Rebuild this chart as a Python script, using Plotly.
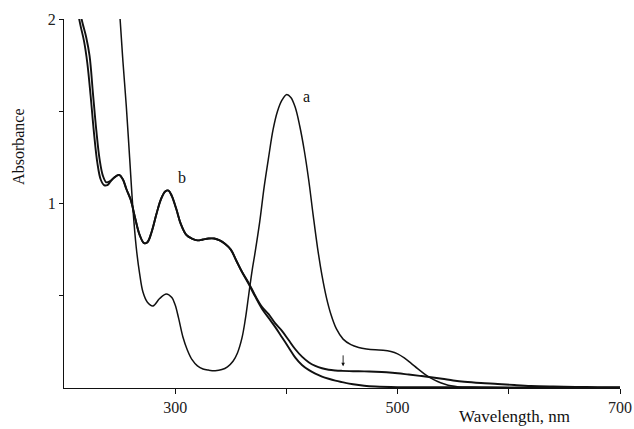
import plotly.graph_objects as go

# Curve a
wl_a = [246, 250, 253, 256, 259, 262, 265, 268, 271, 275, 280, 286, 292, 297, 300, 303, 307, 311, 315, 320,
        325, 330, 336, 342, 347, 352, 356, 360, 363, 366, 369, 372, 376, 380, 384, 388, 392, 396, 400, 404,
        408, 412, 416, 420, 424, 428, 432, 436, 440, 445, 451, 458, 465, 472, 480, 487, 494, 500, 506, 512,
        518, 524, 530, 536, 542, 548, 555, 565, 580, 600, 650, 700]
abs_a = [2.4, 2.04, 1.77, 1.53, 1.25, 0.97, 0.76, 0.62, 0.52, 0.465, 0.445, 0.485, 0.51, 0.49, 0.45, 0.38, 0.275, 0.205, 0.155, 0.12,
         0.103, 0.097, 0.094, 0.100, 0.115, 0.145, 0.19, 0.27, 0.37, 0.50, 0.63, 0.74, 0.90, 1.09, 1.25, 1.40, 1.50, 1.56, 1.59, 1.575,
         1.52, 1.42, 1.29, 1.13, 0.94, 0.76, 0.61, 0.49, 0.40, 0.32, 0.265, 0.235, 0.22, 0.212, 0.207, 0.205, 0.198, 0.185, 0.163, 0.135,
         0.105, 0.077, 0.053, 0.035, 0.022, 0.012, 0.006, 0.004, 0.003, 0.002, 0.001, 0.001]

# Curve b, upper trace
wl_b1 = [215, 217, 220, 223, 226, 229, 232, 235, 238, 241, 245, 249, 253, 256, 260, 264, 268, 272, 275, 279,
         283, 287, 291, 294, 297, 301, 305, 310, 315, 320, 325, 330, 335, 340, 345, 350, 355, 360, 366, 372,
         378, 384, 390, 396, 402, 408, 414, 420, 426, 432, 438, 444, 450, 460, 470, 480, 490, 500, 510, 520,
         530, 540, 550, 560, 575, 590, 605, 620, 640, 660, 680, 700]
abs_b1 = [2.02, 1.97, 1.90, 1.80, 1.60, 1.40, 1.24, 1.15, 1.115, 1.12, 1.14, 1.155, 1.13, 1.08, 1.02, 0.92, 0.83, 0.785, 0.79, 0.85,
          0.94, 1.02, 1.065, 1.07, 1.04, 0.97, 0.89, 0.83, 0.81, 0.80, 0.805, 0.81, 0.81, 0.80, 0.78, 0.75, 0.69, 0.63, 0.57, 0.50,
          0.44, 0.40, 0.35, 0.31, 0.26, 0.21, 0.17, 0.14, 0.12, 0.107, 0.099, 0.095, 0.093, 0.091, 0.09, 0.088, 0.085, 0.08, 0.073, 0.066,
          0.058, 0.05, 0.041, 0.034, 0.027, 0.022, 0.016, 0.011, 0.008, 0.006, 0.005, 0.004]

# Curve b, lower trace
wl_b2 = [213, 215, 218, 221, 224, 227, 230, 233, 236, 239, 242, 246, 250, 253, 256, 260, 264, 268, 272, 275,
         279, 283, 287, 291, 294, 297, 301, 305, 310, 315, 320, 325, 330, 335, 340, 345, 350, 355, 360, 366,
         372, 378, 384, 390, 396, 402, 408, 414, 420, 426, 432, 438, 444, 450, 460, 470, 480, 500, 550, 600, 700]
abs_b2 = [2.02, 1.96, 1.88, 1.76, 1.58, 1.38, 1.22, 1.13, 1.10, 1.10, 1.12, 1.145, 1.155, 1.13, 1.08, 1.02, 0.92, 0.83, 0.785, 0.79,
          0.85, 0.94, 1.02, 1.065, 1.07, 1.04, 0.97, 0.89, 0.83, 0.81, 0.80, 0.805, 0.81, 0.81, 0.80, 0.78, 0.75, 0.69, 0.63, 0.565,
          0.495, 0.43, 0.38, 0.33, 0.275, 0.22, 0.165, 0.125, 0.098, 0.078, 0.062, 0.05, 0.04, 0.032, 0.02, 0.012, 0.008, 0.005, 0.004, 0.003, 0.002]

x_tick_vals = [300, 400, 500, 600, 700]
x_tick_text = ["300", "", "500", "", "700"]
y_tick_vals = [0.5, 1, 1.5, 2]
y_tick_text = ["", "1", "", "2"]

SERIF = "Liberation Serif, Times New Roman, serif"

fig = go.Figure()
fig.add_trace(go.Scatter(x=wl_b1, y=abs_b1, mode="lines",
                         line=dict(color="#111", width=1.9, shape="spline", smoothing=1.0)))
fig.add_trace(go.Scatter(x=wl_b2, y=abs_b2, mode="lines",
                         line=dict(color="#111", width=1.9, shape="spline", smoothing=1.0)))
fig.add_trace(go.Scatter(x=wl_a, y=abs_a, mode="lines",
                         line=dict(color="#111", width=1.5, shape="spline", smoothing=1.0)))

fig.add_annotation(x=418.5, y=1.58, text="a", showarrow=False, xanchor="center", yanchor="middle",
                   font=dict(family=SERIF, size=16, color="#111"))
fig.add_annotation(x=306, y=1.14, text="b", showarrow=False, xanchor="center", yanchor="middle",
                   font=dict(family=SERIF, size=16, color="#111"))
fig.add_annotation(x=451, y=0.118, ax=451, ay=0.185, axref="x", ayref="y", text="",
                   showarrow=True, arrowhead=2, arrowsize=0.8, arrowwidth=0.9, arrowcolor="#111")

fig.add_annotation(xref="paper", yref="paper", x=-0.083, y=0.653, text="Absorbance", textangle=-90,
                   xanchor="center", yanchor="middle",
                   showarrow=False, font=dict(family=SERIF, size=16, color="#111"))
fig.add_annotation(xref="paper", yref="paper", x=0.811, y=-0.078, text="Wavelength, nm",
                   xanchor="center", yanchor="middle",
                   showarrow=False, font=dict(family=SERIF, size=17, color="#111"))

fig.update_layout(
    width=634, height=429,
    margin=dict(l=64, r=14, t=19, b=41, autoexpand=False),
    paper_bgcolor="white", plot_bgcolor="white",
    showlegend=False,
    font=dict(family=SERIF, size=16, color="#111"),
    xaxis=dict(range=[200, 700], tickvals=x_tick_vals, ticktext=x_tick_text, automargin=False,
               showline=True, linecolor="#111", linewidth=1.2, ticks="outside", ticklen=5,
               tickwidth=1.2, tickcolor="#111", showgrid=False, zeroline=False,
               tickfont=dict(family=SERIF, size=16, color="#222")),
    yaxis=dict(range=[0, 2], tickvals=y_tick_vals, ticktext=y_tick_text, automargin=False,
               showline=True, linecolor="#111", linewidth=1.2, ticks="outside", ticklen=4,
               tickwidth=1.2, tickcolor="#111", showgrid=False, zeroline=False,
               tickfont=dict(family=SERIF, size=16, color="#222")),
)

fig.write_html("out.html", config={"displayModeBar": False},
               post_script="document.body.style.margin='0';document.body.style.overflow='hidden';")
